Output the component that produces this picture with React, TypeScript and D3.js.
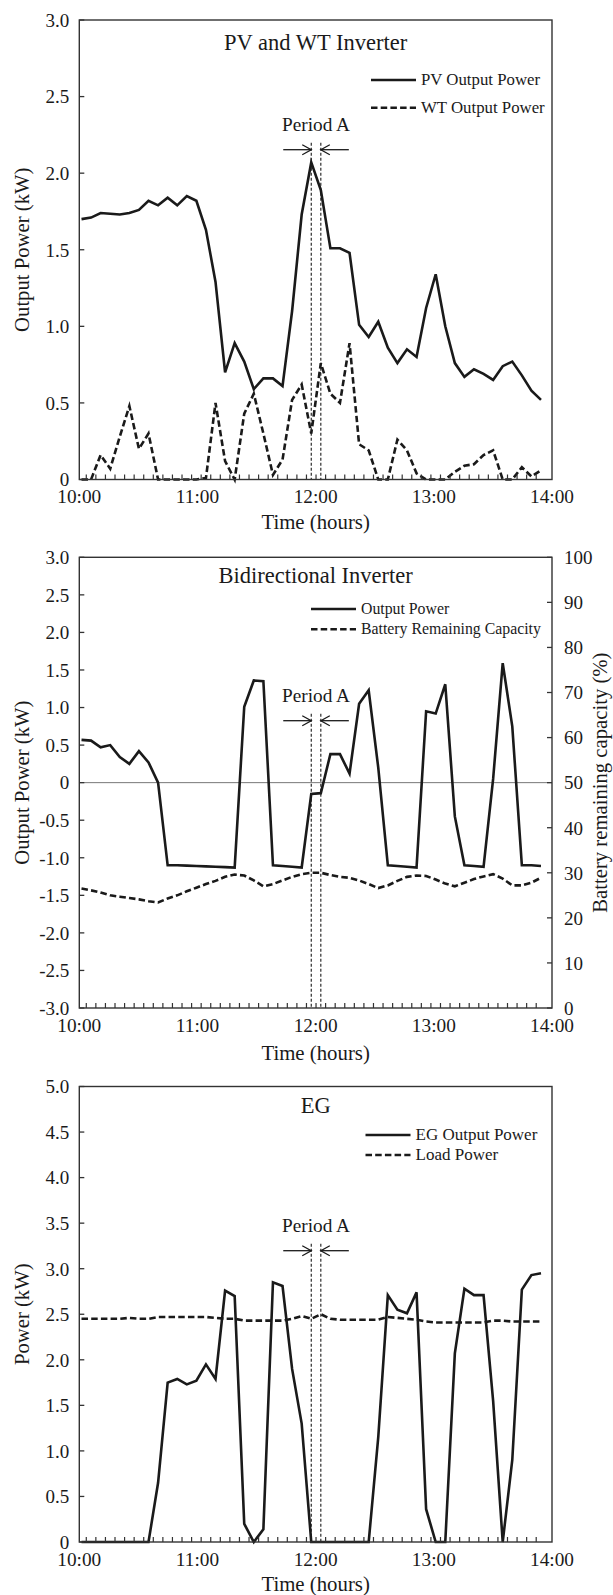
import * as d3 from "d3";

// 5-minute samples from 10:00 to 14:00 (categories)
const times = d3.range(49).map((i) => {
  const m = 600 + i * 5;
  return `${Math.floor(m / 60)}:${String(m % 60).padStart(2, "0")}`;
});
const hourLabels = ["10:00", "11:00", "12:00", "13:00", "14:00"];
const periodA = ["12:00", "12:05"];

// PV and WT inverter (kW)
const pvPower = [1.70, 1.71, 1.74, 1.735, 1.73, 1.74, 1.76, 1.82, 1.79, 1.84, 1.79, 1.85, 1.82, 1.63, 1.29, 0.70, 0.89, 0.77, 0.59, 0.66, 0.66, 0.61, 1.10, 1.73, 2.07, 1.89, 1.51, 1.51, 1.48, 1.01, 0.93, 1.03, 0.86, 0.76, 0.85, 0.80, 1.12, 1.34, 1.00, 0.76, 0.67, 0.72, 0.69, 0.65, 0.74, 0.77, 0.68, 0.58, 0.52];
const wtPower = [0, 0, 0.16, 0.07, 0.28, 0.48, 0.20, 0.30, 0, 0, 0, 0, 0, 0.01, 0.50, 0.12, 0, 0.43, 0.56, 0.30, 0.03, 0.13, 0.52, 0.62, 0.30, 0.76, 0.56, 0.50, 0.89, 0.23, 0.19, 0, 0, 0.26, 0.19, 0.04, 0, 0, 0, 0.05, 0.09, 0.10, 0.16, 0.19, 0, 0, 0.08, 0.02, 0.06];

// Bidirectional inverter (kW) and battery capacity (%)
const bidirPower = [0.57, 0.56, 0.47, 0.50, 0.34, 0.25, 0.42, 0.27, 0, -1.10, -1.10, -1.105, -1.11, -1.115, -1.12, -1.125, -1.13, 1.01, 1.36, 1.35, -1.10, -1.11, -1.12, -1.13, -0.15, -0.14, 0.38, 0.38, 0.12, 1.05, 1.23, 0.20, -1.10, -1.11, -1.12, -1.13, 0.95, 0.92, 1.31, -0.45, -1.10, -1.11, -1.12, 0.05, 1.59, 0.75, -1.10, -1.10, -1.11];
const batteryCapacity = [26.5, 26.1, 25.6, 25.0, 24.7, 24.4, 24.1, 23.7, 23.4, 24.3, 25.0, 25.9, 26.7, 27.5, 28.2, 29.1, 29.6, 29.4, 28.3, 27.0, 27.5, 28.3, 29.1, 29.7, 30.0, 30.0, 29.5, 29.1, 28.9, 28.3, 27.5, 26.6, 27.2, 28.2, 29.1, 29.4, 29.3, 28.5, 27.6, 27.0, 27.8, 28.6, 29.2, 29.7, 28.7, 27.2, 27.2, 27.8, 28.9];

// EG and load (kW)
const egPower = [0, 0, 0, 0, 0, 0, 0, 0, 0.65, 1.75, 1.79, 1.73, 1.77, 1.95, 1.79, 2.76, 2.70, 0.20, 0, 0.14, 2.85, 2.81, 1.90, 1.30, 0, 0, 0, 0, 0, 0, 0, 1.15, 2.71, 2.55, 2.51, 2.74, 0.36, 0, 0, 2.07, 2.78, 2.71, 2.71, 1.55, 0, 0.90, 2.77, 2.93, 2.95];
const loadPower = [2.45, 2.45, 2.45, 2.45, 2.45, 2.46, 2.45, 2.45, 2.47, 2.47, 2.47, 2.47, 2.47, 2.47, 2.46, 2.45, 2.45, 2.43, 2.43, 2.43, 2.43, 2.43, 2.45, 2.48, 2.45, 2.50, 2.45, 2.44, 2.44, 2.44, 2.44, 2.44, 2.47, 2.46, 2.45, 2.44, 2.42, 2.41, 2.41, 2.41, 2.41, 2.41, 2.41, 2.43, 2.43, 2.42, 2.42, 2.42, 2.42];

const ticks1 = [0, 0.5, 1, 1.5, 2, 2.5, 3];
const ticks2 = [-3, -2.5, -2, -1.5, -1, -0.5, 0, 0.5, 1, 1.5, 2, 2.5, 3];
const ticksRight2 = [0, 10, 20, 30, 40, 50, 60, 70, 80, 90, 100];
const ticks3 = [0, 0.5, 1, 1.5, 2, 2.5, 3, 3.5, 4, 4.5, 5];

const LEFT = 79.3;
const RIGHT = 552;
const FONT = "'Liberation Serif', 'Times New Roman', serif";
const INK = "#1a1a1a";
const DASH = "6.5,3.2";

// plain hyphen for negatives, "0" without decimals
const fmt = (v) => (v === 0 ? "0" : v.toFixed(1));

function Arrow({ x1, x2, y }) {
  const dir = x2 > x1 ? 1 : -1;
  return (
    <g stroke={INK} strokeWidth={1.3} fill="none">
      <line x1={x1} y1={y} x2={x2} y2={y} />
      <path d={`M${x2 - dir * 9},${y - 5} L${x2},${y} L${x2 - dir * 9},${y + 5}`} />
    </g>
  );
}

function Panel({ top, bottom, domain, ticks, title, titleY, series, legend, legendX, legendY, legendFont, periodY, yLabel, right, xLabelY, zeroLine }) {
  // sample positions (points sit slightly inside the frame)
  const x = d3.scalePoint(times, [LEFT + 2.2, RIGHT - 11]);
  const step = x.step();
  const hx = d3.scaleLinear([0, hourLabels.length - 1], [LEFT, RIGHT]);
  const y = d3.scaleLinear(domain, [bottom, top]);
  const yR = right ? d3.scaleLinear(right.domain, [bottom, top]) : null;
  const pa0 = x(periodA[0]);
  const pa1 = x(periodA[1]);

  return (
    <g fontFamily={FONT} fill={INK}>
      {zeroLine && <line x1={LEFT} x2={RIGHT} y1={y(0)} y2={y(0)} stroke="#777" strokeWidth={1} />}

      {/* period A markers */}
      {[pa0, pa1].map((px) => (
        <line key={px} x1={px} x2={px} y1={periodY + 12} y2={bottom} stroke={INK} strokeWidth={1.1} strokeDasharray="3,2" />
      ))}
      <Arrow x1={pa0 - 28} x2={pa0} y={periodY + 19} />
      <Arrow x1={pa1 + 28} x2={pa1} y={periodY + 19} />
      <text x={(pa0 + pa1) / 2} y={periodY} textAnchor="middle" fontSize={19.3}>Period A</text>

      {/* series */}
      {series.map((s, i) => {
        const sy = s.axis === "right" ? yR : y;
        const line = d3.line((d, j) => x(times[j]), (d) => sy(d));
        return (
          <path key={i} d={line(s.values)} fill="none" stroke={INK} strokeWidth={2.6} strokeDasharray={s.dash} />
        );
      })}

      {/* frame */}
      <rect x={LEFT} y={top} width={RIGHT - LEFT} height={bottom - top} fill="none" stroke="#333" strokeWidth={1.4} />

      {/* left axis */}
      {ticks.map((t) => (
        <g key={t}>
          <line x1={LEFT} x2={LEFT + 5} y1={y(t)} y2={y(t)} stroke="#333" strokeWidth={1.3} />
          <text x={LEFT - 10} y={y(t)} dy="0.36em" textAnchor="end" fontSize={19}>{fmt(t)}</text>
        </g>
      ))}

      {/* right axis */}
      {right && right.ticks.map((t) => (
        <g key={t}>
          <line x1={RIGHT - 5} x2={RIGHT} y1={yR(t)} y2={yR(t)} stroke="#333" strokeWidth={1.3} />
          <text x={RIGHT + 12} y={yR(t)} dy="0.36em" textAnchor="start" fontSize={19}>{t}</text>
        </g>
      ))}

      {/* x axis minor ticks between samples */}
      {times.slice(1).map((t) => (
        <line key={t} x1={x(t) - step / 2} x2={x(t) - step / 2} y1={bottom} y2={bottom - 5} stroke="#333" strokeWidth={1.2} />
      ))}
      {hourLabels.map((h, i) => (
        <text key={h} x={hx(i)} y={bottom + 23.5} textAnchor="middle" fontSize={19.3}>{h}</text>
      ))}
      <text x={(LEFT + RIGHT) / 2} y={xLabelY} textAnchor="middle" fontSize={20.8}>Time (hours)</text>

      {/* axis titles */}
      <text transform={`translate(28.5,${(top + bottom) / 2}) rotate(-90)`} textAnchor="middle" fontSize={20.7}>{yLabel}</text>
      {right && (
        <text transform={`translate(606.5,${(top + bottom) / 2}) rotate(-90)`} textAnchor="middle" fontSize={20.7}>{right.label}</text>
      )}

      {/* title */}
      <text x={(LEFT + RIGHT) / 2} y={titleY} textAnchor="middle" fontSize={22.5}>{title}</text>

      {/* legend */}
      {legend.map((l, i) => (
        <g key={l.name}>
          <line x1={legendX} x2={legendX + 45} y1={legendY + i * l.gap - 5} y2={legendY + i * l.gap - 5} stroke={INK} strokeWidth={2.6} strokeDasharray={l.dash} />
          <text x={legendX + 50} y={legendY + i * l.gap} fontSize={legendFont}>{l.name}</text>
        </g>
      ))}
    </g>
  );
}

export default function App() {
  return (
    <div style={{ position: "absolute", left: 0, top: 0, background: "#fff" }}>
      <svg width={613} height={1595} style={{ display: "block" }}>
        <rect width={613} height={1595} fill="#fff" />
        <Panel
          top={20}
          bottom={479.5}
          domain={[0, 3]}
          ticks={ticks1}
          title="PV and WT Inverter"
          titleY={49.5}
          series={[{ values: pvPower }, { values: wtPower, dash: DASH }]}
          legend={[
            { name: "PV Output Power", gap: 27.7 },
            { name: "WT Output Power", dash: DASH, gap: 27.7 },
          ]}
          legendX={371}
          legendY={85}
          legendFont={16.8}
          periodY={130.7}
          yLabel="Output Power (kW)"
          xLabelY={529}
        />
        <Panel
          top={557.3}
          bottom={1008}
          domain={[-3, 3]}
          ticks={ticks2}
          title="Bidirectional Inverter"
          titleY={583.3}
          series={[{ values: bidirPower }, { values: batteryCapacity, dash: DASH, axis: "right" }]}
          legend={[
            { name: "Output Power", gap: 20.3 },
            { name: "Battery Remaining Capacity", dash: DASH, gap: 20.3 },
          ]}
          legendX={311}
          legendY={614}
          legendFont={15.8}
          periodY={701.7}
          yLabel="Output Power (kW)"
          right={{ domain: [0, 100], ticks: ticksRight2, label: "Battery remaining capacity (%)" }}
          xLabelY={1060}
          zeroLine
        />
        <Panel
          top={1086.5}
          bottom={1542}
          domain={[0, 5]}
          ticks={ticks3}
          title="EG"
          titleY={1112.7}
          series={[{ values: egPower }, { values: loadPower, dash: DASH }]}
          legend={[
            { name: "EG Output Power", gap: 20 },
            { name: "Load Power", dash: DASH, gap: 20 },
          ]}
          legendX={365.5}
          legendY={1140}
          legendFont={17}
          periodY={1231.7}
          yLabel="Power (kW)"
          xLabelY={1591}
        />
      </svg>
    </div>
  );
}
